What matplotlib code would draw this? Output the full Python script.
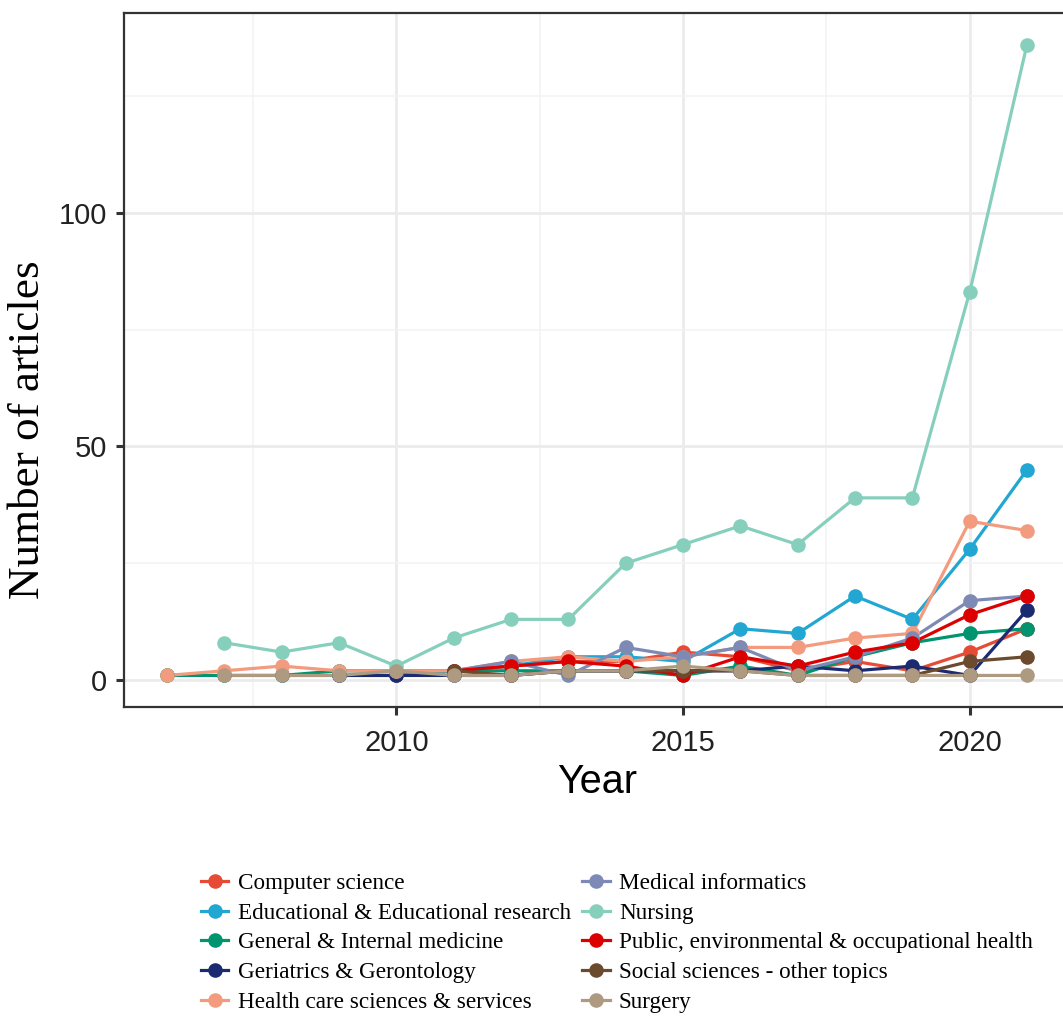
import numpy as np
import matplotlib
matplotlib.use("Agg")
import matplotlib.pyplot as plt

categories = [
    "Computer science",
    "Educational & Educational research",
    "General & Internal medicine",
    "Geriatrics & Gerontology",
    "Health care sciences & services",
    "Medical informatics",
    "Nursing",
    "Public, environmental & occupational health",
    "Social sciences - other topics",
    "Surgery",
]
colors = ["#E64B35", "#22A6D2", "#00946F", "#1B2B72", "#F39B7F",
          "#7D8AB5", "#86CFBC", "#DC0000", "#6B4A2E", "#AD9A80"]

years_cs = [2010, 2011, 2012, 2013, 2014, 2015, 2016, 2017, 2018, 2019, 2020, 2021]
vals_cs = [1, 2, 3, 4, 4, 6, 5, 2, 4, 2, 6, 11]

years_edu = [2008, 2009, 2010, 2011, 2012, 2013, 2014, 2015, 2016, 2017, 2018, 2019, 2020, 2021]
vals_edu = [1, 1, 1, 2, 3, 5, 5, 4, 11, 10, 18, 13, 28, 45]

years_gen = list(range(2006, 2022))
vals_gen = [1, 1, 1, 2, 2, 2, 2, 2, 2, 1, 3, 1, 5, 8, 10, 11]

years_ger = list(range(2009, 2022))
vals_ger = [1, 1, 1, 1, 2, 2, 2, 2, 3, 2, 3, 1, 15]

years_hc = list(range(2006, 2022))
vals_hc = [1, 2, 3, 2, 2, 2, 4, 5, 4, 5, 7, 7, 9, 10, 34, 32]

years_mi = list(range(2011, 2022))
vals_mi = [2, 4, 1, 7, 5, 7, 2, 5, 9, 17, 18]

years_nur = list(range(2007, 2022))
vals_nur = [8, 6, 8, 3, 9, 13, 13, 25, 29, 33, 29, 39, 39, 83, 136]

years_ph = list(range(2011, 2022))
vals_ph = [2, 3, 4, 3, 1, 5, 3, 6, 8, 14, 18]

years_soc = list(range(2011, 2022))
vals_soc = [2, 1, 2, 2, 2, 2, 1, 1, 1, 4, 5]

years_sur = list(range(2007, 2022))
vals_sur = [1, 1, 1, 2, 1, 1, 2, 2, 3, 2, 1, 1, 1, 1, 1]

series_years = [years_cs, years_edu, years_gen, years_ger, years_hc,
                years_mi, years_nur, years_ph, years_soc, years_sur]
series_vals = [vals_cs, vals_edu, vals_gen, vals_ger, vals_hc,
               vals_mi, vals_nur, vals_ph, vals_soc, vals_sur]

x_ticks = [2010, 2015, 2020]
y_ticks = [0, 50, 100]

W, H = 1063, 1019
fig = plt.figure(figsize=(W / 100, H / 100), dpi=100)
left, right, top, bottom = 124, 1070, 13, 707
ax = fig.add_axes([left / W, 1 - bottom / H, (right - left) / W, (bottom - top) / H])

handles = []
for i, (xs, ys) in enumerate(zip(series_years, series_vals)):
    ax.plot(xs, ys, color=colors[i], lw=2.3, zorder=2, solid_capstyle="round")
for i, (xs, ys) in enumerate(zip(series_years, series_vals)):
    ax.plot(xs, ys, ls="none", marker="o", ms=10.5, color=colors[i],
            markeredgewidth=0, zorder=3)
    h, = ax.plot([], [], color=colors[i], lw=2.3, marker="o", ms=10.5,
                 markeredgewidth=0)
    handles.append(h)

ax.set_xlim(2005.25, 2021.75)
ax.set_ylim(-5.75, 142.75)
ax.set_xticks(x_ticks)
ax.set_yticks(y_ticks)
ax.set_xticks([2007.5, 2012.5, 2017.5], minor=True)
ax.set_yticks([25, 75, 125], minor=True)
ax.tick_params(which="minor", length=0)
ax.tick_params(which="major", length=6, width=2.2, color="#333333",
               labelsize=21, labelcolor="#222222")
ax.tick_params(axis="x", pad=10)
ax.tick_params(axis="y", pad=6)
for lab in ax.get_xticklabels() + ax.get_yticklabels():
    lab.set_family("Liberation Sans")
ax.grid(True, which="major", color="#EBEBEB", lw=2.0, zorder=0)
ax.grid(True, which="minor", color="#F3F3F3", lw=1.2, zorder=0)
ax.set_axisbelow(True)
for s in ax.spines.values():
    s.set_color("#333333")
    s.set_linewidth(1.6)

ax.set_xlabel("Year", family="Liberation Sans", fontsize=28.5, labelpad=4)
ax.set_ylabel("Number of articles", family="Liberation Serif", fontsize=32.5)
ax.yaxis.set_label_coords(-0.080, 0.40)

leg = fig.legend(handles, categories, loc="upper left",
                 bbox_to_anchor=(189 / W, 1 - 861 / H), ncol=2, frameon=False,
                 prop={"family": "Liberation Serif", "size": 16.7},
                 handlelength=1.2, handletextpad=0.4, columnspacing=0.47,
                 labelspacing=0.37, borderpad=0)

fig.savefig("out.png", dpi=100, facecolor="white")
